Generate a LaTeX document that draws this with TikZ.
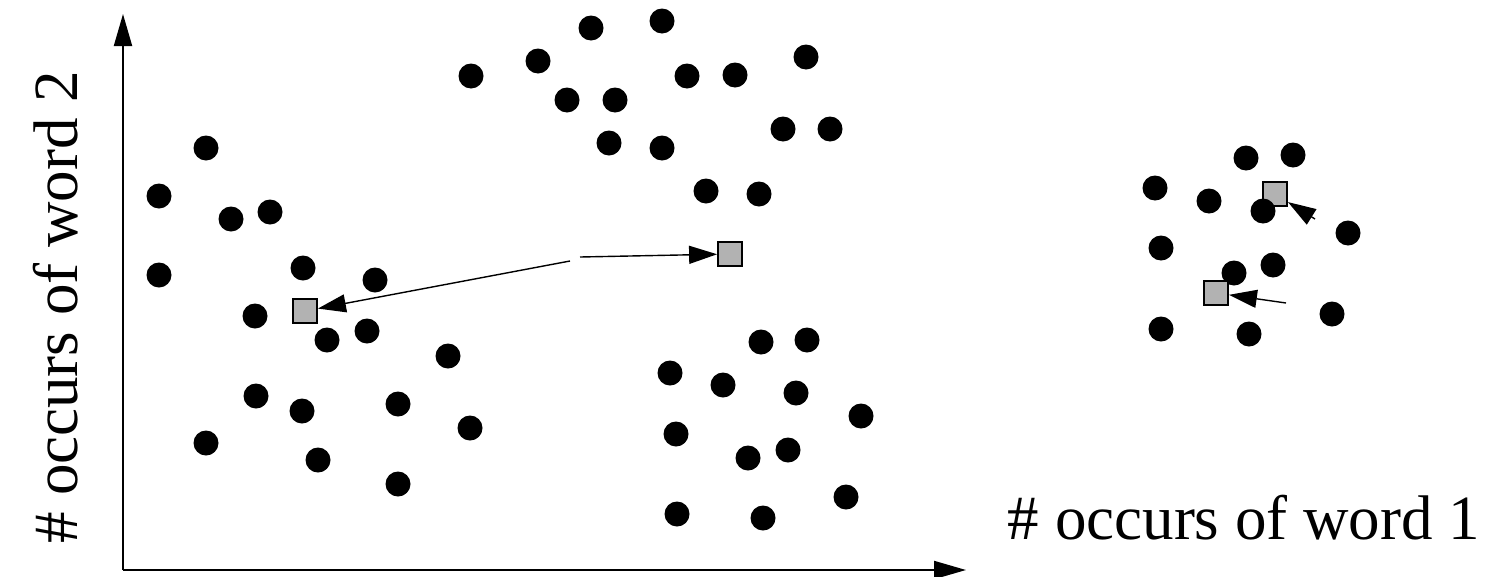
\documentclass[tikz,border=0pt]{standalone}
\usepackage{fontspec}
\setmainfont{Liberation Serif}
\usetikzlibrary{arrows.meta}
\begin{document}
\begin{tikzpicture}[x=1pt,y=-1pt,
  dot/.style={fill=black},
  sq/.style={draw=black,fill=black!30,line width=1.8pt,minimum size=24pt,inner sep=0pt},
  axis/.style={line width=2pt,-{Triangle[length=32pt,width=18pt]}},
  ptr/.style={line width=1.4pt,-{Triangle[length=28pt,width=18pt]}},
  lbl/.style={font=\fontsize{63}{70}\selectfont,inner sep=0pt}]
\useasboundingbox (0,0) rectangle (1491,576);
% axes
\coordinate (o) at (123,570);
\coordinate (ytop) at (123,14);
\coordinate (xend) at (966,570);
\draw[axis] (o) -- (ytop);
\draw[axis] (o) -- (xend);
% labels
\node[lbl] (xl) at (1244,518) {\# occurs of word 1};
\node[lbl,rotate=90] (yl) at (56,307) {\# occurs of word 2};
% square under dots
\node[sq] (s3) at (1275,194) {};
% dots
\foreach \x/\y in {206/148,159/196,231/219,270/212,159/275,303/268,375/280,255/316,327/340,367/331,448/356,256/396,302/411,398/404,470/428,206/443,318/460,398/484,
471/76,538/61,591/28,662/21,687/76,735/75,806/57,567/100,615/100,783/129,830/129,609/143,662/148,706/191,759/194,
761/342,807/340,670/373,723/385,796/393,861/416,676/434,748/458,788/450,677/514,763/518,846/497,
1246/158,1293/155,1155/188,1209/201,1263/211,1348/233,1161/248,1234/273,1273/265,1161/329,1249/334,1332/314}
  \fill[dot] (\x,\y) circle (12.5pt);
% squares over dots
\node[sq] (s1) at (305,311) {};
\node[sq] (s2) at (730,254) {};
\node[sq] (s4) at (1216,293) {};
% pointers
\coordinate (a1) at (570,261);
\coordinate (a2) at (580,257);
\coordinate (a3) at (1315,219);
\coordinate (a4) at (1286,303);
\draw[ptr] (a1) -- (s1);
\draw[ptr] (a2) -- (s2);
\draw[ptr] (a3) -- (s3);
\draw[ptr] (a4) -- (s4);
\end{tikzpicture}
\end{document}
